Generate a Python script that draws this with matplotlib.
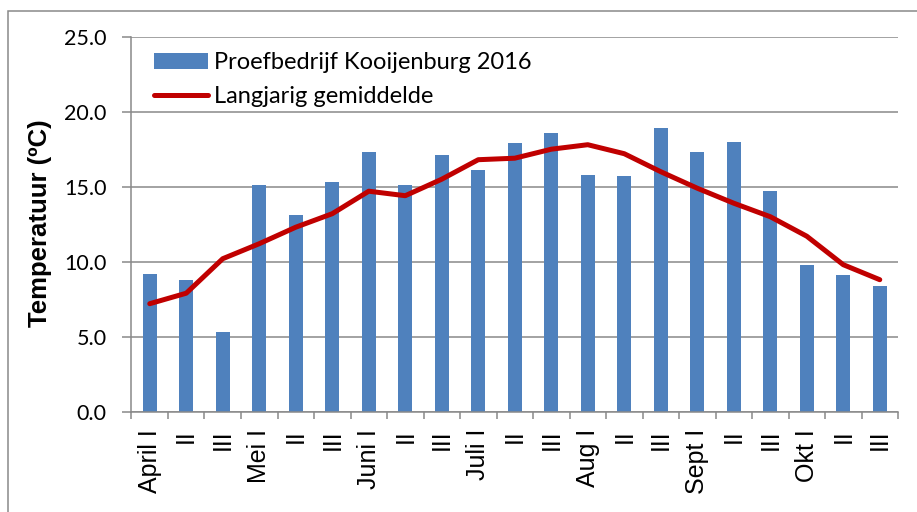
import numpy as np
import matplotlib.pyplot as plt
from matplotlib.patches import Rectangle

# Decaden april t/m oktober
decaden = ['April I', 'II', 'III', 'Mei I', 'II', 'III', 'Juni I', 'II', 'III',
           'Juli I', 'II', 'III', 'Aug I', 'II', 'III', 'Sept I', 'II', 'III',
           'Okt I', 'II', 'III']

# Gemiddelde temperatuur per decade (oC)
kooijenburg_2016 = [9.2, 8.8, 5.3, 15.1, 13.1, 15.3, 17.3, 15.1, 17.1, 16.1, 17.9,
                    18.6, 15.8, 15.7, 18.9, 17.3, 18.0, 14.7, 9.8, 9.1, 8.4]
langjarig = [7.2, 7.9, 10.2, 11.2, 12.3, 13.2, 14.7, 14.4, 15.5, 16.8, 16.9,
             17.5, 17.8, 17.2, 16.0, 14.9, 13.9, 13.0, 11.7, 9.8, 8.8]

blauw = '#4F81BD'
rood = '#C00000'
grijs = '#898989'

fig = plt.figure(figsize=(9.17, 5.12), dpi=100)
ax = fig.add_axes([0.1434, 0.1959, 0.8359, 0.7324])

x = np.arange(len(decaden))
staven = ax.bar(x, kooijenburg_2016, width=0.38, color=blauw, zorder=2,
                label='Proefbedrijf Kooijenburg 2016')
lijn, = ax.plot(x, langjarig, color=rood, lw=3.6, solid_capstyle='round',
                solid_joinstyle='round', zorder=3, label='Langjarig gemiddelde')

ax.set_xlim(-0.5, len(decaden) - 0.5)
ax.set_ylim(0, 25)
ax.set_yticks(np.arange(0, 25.1, 5))
ax.set_yticklabels(['%.1f' % v for v in np.arange(0, 25.1, 5)],
                   fontfamily='Lato', fontsize=15.5)
ax.yaxis.grid(True, color=grijs, lw=1.1, zorder=0)
ax.set_axisbelow(True)

# labels op de midden, streepjes op de grenzen
ax.set_xticks(x)
ax.set_xticklabels(decaden, rotation=90, fontfamily='Liberation Sans',
                   fontsize=18, va='top', ha='center')
ax.set_xticks(np.arange(len(decaden) + 1) - 0.5, minor=True)
ax.tick_params(axis='x', which='major', length=0, pad=12.5)
ax.tick_params(axis='x', which='minor', length=5, width=1.1, color=grijs)
ax.tick_params(axis='y', length=6.5, width=1.1, color=grijs, pad=11.5)

for s in ['top', 'right']:
    ax.spines[s].set_visible(False)
for s in ['left', 'bottom']:
    ax.spines[s].set_color(grijs)
    ax.spines[s].set_linewidth(1.1)

ax.set_ylabel('Temperatuur (ºC)', fontfamily='Liberation Sans',
              fontweight='bold', fontsize=18.5)
ax.yaxis.set_label_coords(-0.104, 0.503)

leg = ax.legend([staven, lijn], [staven.get_label(), lijn.get_label()],
                loc='upper left', bbox_to_anchor=(0.029, 0.958), frameon=False,
                borderpad=0, borderaxespad=0, handlelength=2.3,
                handleheight=0.7, handletextpad=0.25, labelspacing=0.55,
                prop={'family': 'Lato', 'size': 17})

# rand om de grafiek
fig.patches.append(Rectangle((8 / 917, -0.1), 1.2, 1.1 - 10.5 / 512,
                             transform=fig.transFigure, fill=False,
                             edgecolor=grijs, lw=1.1))

fig.savefig('out.png', dpi=100)
